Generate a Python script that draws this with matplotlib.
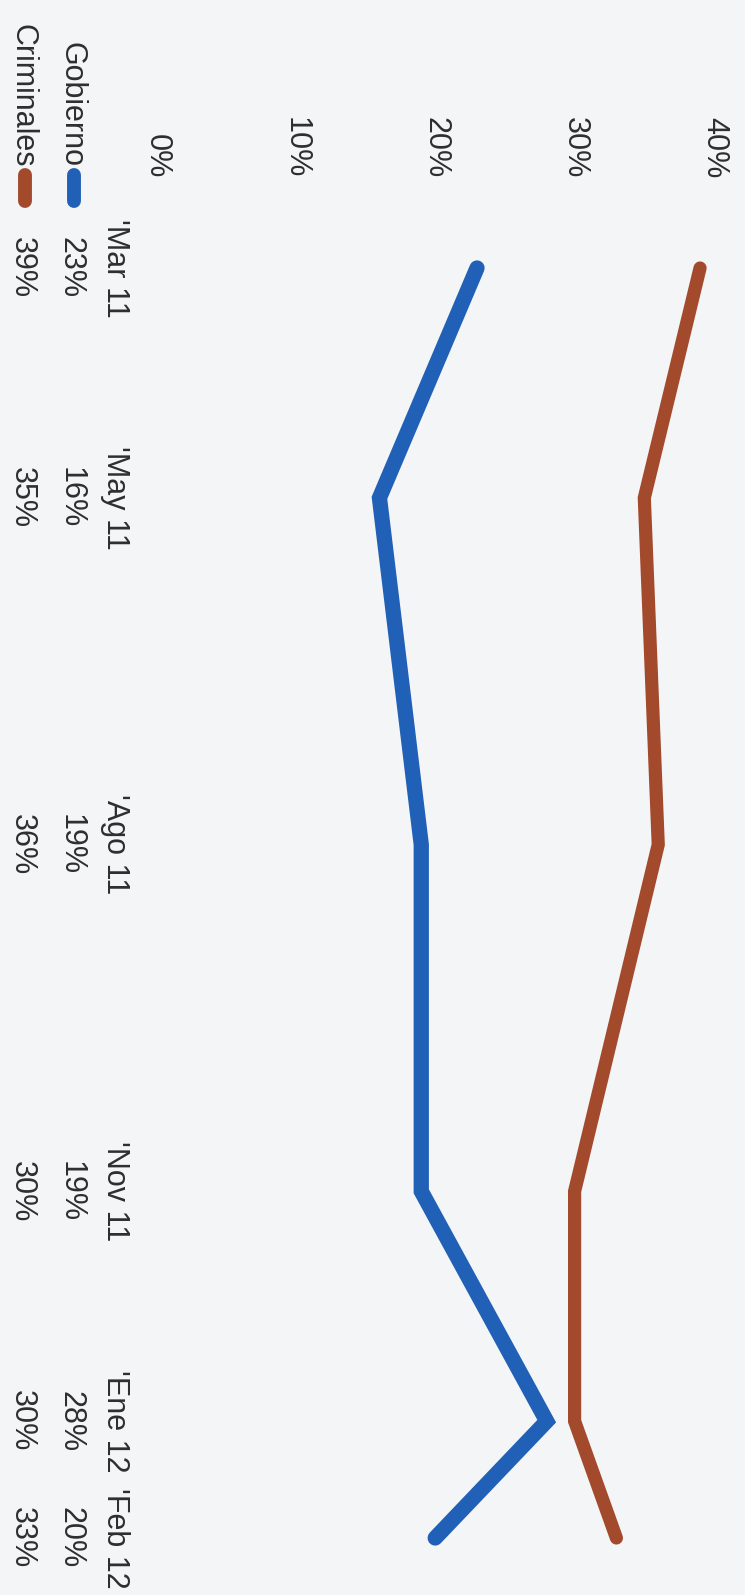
import datetime as dt
import matplotlib
matplotlib.use("Agg")
import matplotlib.pyplot as plt
import matplotlib.dates as mdates
import matplotlib.transforms as mtransforms
from matplotlib.lines import Line2D

plt.rcParams['font.family'] = ['Liberation Sans', 'DejaVu Sans']

# Data
dates = [dt.date(2011, 3, 1), dt.date(2011, 5, 1), dt.date(2011, 8, 1),
         dt.date(2011, 11, 1), dt.date(2012, 1, 1), dt.date(2012, 2, 1)]
date_labels = ["'Mar 11", "'May 11", "'Ago 11", "'Nov 11", "'Ene 12", "'Feb 12"]
gobierno = [23, 16, 19, 19, 28, 20]
criminales = [39, 35, 36, 30, 30, 33]
pct_ticks = [0, 10, 20, 30, 40]

W, H = 745, 1595
BG = '#f4f5f7'
TXT = '#2e2e2e'
BLUE = '#2060b6'
RED = '#a34a2c'
FS = 22

fig = plt.figure(figsize=(W / 100, H / 100), dpi=100, facecolor=BG)

# chart is drawn rotated: time runs downward, percent runs to the right
x0, x40 = 156.4, 714.0
ytop, ybot = 268, 1538
ax = fig.add_axes([x0 / W, 1 - ybot / H, (x40 - x0) / W, (ybot - ytop) / H])
ax.set_facecolor('none')

t = mdates.date2num(dates)
ax.plot(gobierno, t, color=BLUE, lw=11, solid_capstyle='round',
        solid_joinstyle='miter', clip_on=False)
ax.plot(criminales, t, color=RED, lw=9.5, solid_capstyle='round',
        solid_joinstyle='miter', clip_on=False)
ax.set_xlim(0, 40)
ax.set_ylim(t[-1], t[0])
ax.axis('off')

# percent labels along the top
tr_x = mtransforms.blended_transform_factory(ax.transData, fig.transFigure)
for p in pct_ticks:
    ax.text(p, 1 - 178 / H, f"{p}%", transform=tr_x, rotation=-90,
            ha='center', va='bottom', fontsize=FS, color=TXT)

# table: dates and values along the left side
tr_y = mtransforms.blended_transform_factory(fig.transFigure, ax.transData)
for ti, lab, g, c in zip(t, date_labels, gobierno, criminales):
    ax.text(115 / W, ti, lab, transform=tr_y, rotation=-90,
            ha='center', va='center', fontsize=FS, color=TXT)
    ax.text(71 / W, ti, f"{g}%", transform=tr_y, rotation=-90,
            ha='center', va='center', fontsize=FS, color=TXT)
    ax.text(22 / W, ti, f"{c}%", transform=tr_y, rotation=-90,
            ha='center', va='center', fontsize=FS, color=TXT)

# row headers with colour swatches
for name, xc, col in [("Gobierno", 71, BLUE), ("Criminales", 22, RED)]:
    fig.text(xc / W, 1 - 167 / H, name, rotation=-90, ha='center',
             va='bottom', fontsize=FS, color=TXT)
    fig.add_artist(Line2D([(xc + 3) / W] * 2, [1 - 175 / H, 1 - 201 / H],
                          transform=fig.transFigure, color=col, lw=10,
                          solid_capstyle='round'))

fig.savefig('out.png', dpi=100, facecolor=BG)
